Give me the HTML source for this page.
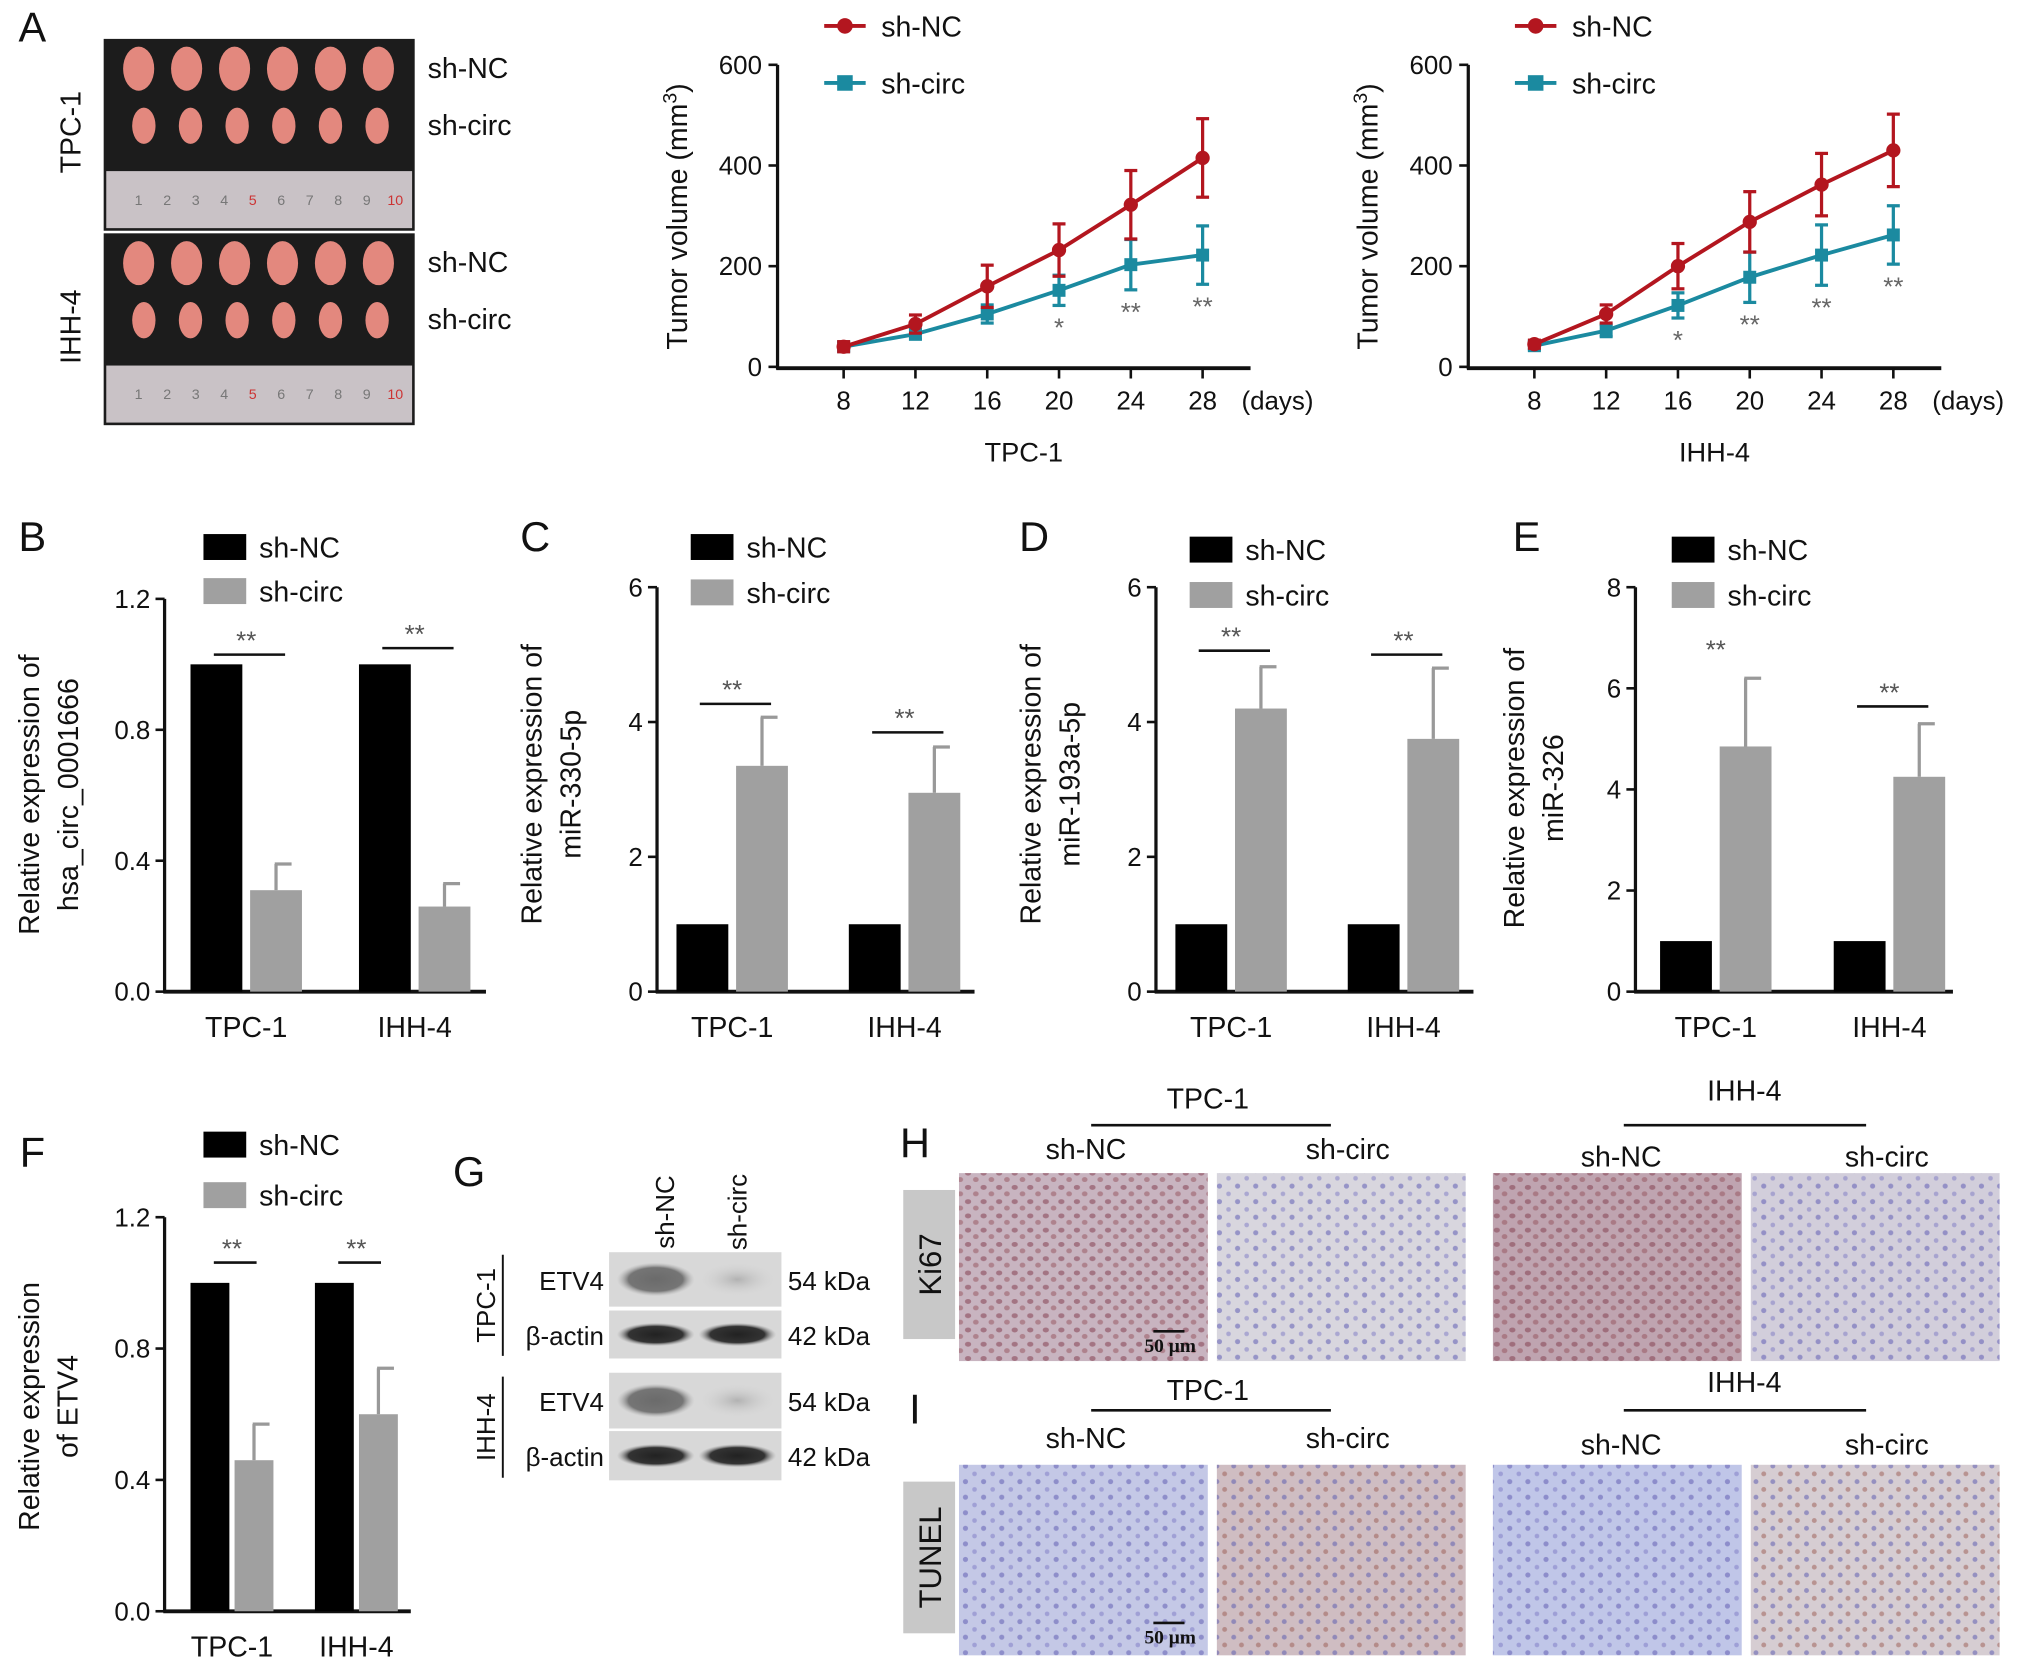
<!DOCTYPE html>
<html><head><meta charset="utf-8"><style>
html,body{margin:0;padding:0;background:#fff;}
svg{display:block;font-family:"Liberation Sans",Arial,sans-serif;}
</style></head><body>
<svg id="fig" width="2032" height="1667" viewBox="0 0 1568 1286" preserveAspectRatio="none" xmlns="http://www.w3.org/2000/svg">
<defs>
<pattern id="dotsBlue" width="14" height="12" patternUnits="userSpaceOnUse"><circle cx="3" cy="3" r="2" fill="#6a68b8" opacity="0.6"/><circle cx="10" cy="9" r="1.8" fill="#7b78c4" opacity="0.5"/></pattern>
<pattern id="dotsBrown" width="12" height="11" patternUnits="userSpaceOnUse"><ellipse cx="3" cy="3" rx="2.4" ry="1.9" fill="#8a4a5a" opacity="0.6"/><ellipse cx="9" cy="8" rx="2.2" ry="1.9" fill="#94505a" opacity="0.5"/></pattern>
<pattern id="dotsMix" width="13" height="12" patternUnits="userSpaceOnUse"><circle cx="3" cy="3" r="1.9" fill="#5e5fb0" opacity="0.55"/><circle cx="9" cy="9" r="1.9" fill="#9a5a50" opacity="0.5"/></pattern>
<radialGradient id="band"><stop offset="0" stop-color="#222"/><stop offset="0.7" stop-color="#333"/><stop offset="1" stop-color="#999" stop-opacity="0"/></radialGradient>
<radialGradient id="bandFaint"><stop offset="0" stop-color="#a8a8a8"/><stop offset="1" stop-color="#d4d4d4" stop-opacity="0"/></radialGradient>
</defs>
<g id="root"></g>
</svg>
<script>
// ===== Panel A line chart data =====
const daysA = [8, 12, 16, 20, 24, 28];
const yTicksA = [0, 200, 400, 600];
const tpcNC = [40, 85, 160, 232, 322, 415];
const tpcNCerr = [10, 18, 42, 52, 68, 78];
const tpcCirc = [40, 65, 105, 152, 203, 222];
const tpcCircErr = [8, 10, 18, 30, 50, 58];
const tpcStars = ['', '', '', '*', '**', '**'];
const ihhNC = [45, 105, 200, 288, 362, 430];
const ihhNCerr = [8, 18, 45, 60, 62, 72];
const ihhCirc = [42, 72, 122, 178, 222, 262];
const ihhCircErr = [8, 12, 25, 50, 60, 58];
const ihhStars = ['', '', '*', '**', '**', '**'];
// ===== Bar chart data =====
const barCats = ['TPC-1', 'IHH-4'];
const bNC = [1, 1]; const bCirc = [0.31, 0.26]; const bCircErr = [0.08, 0.07];
const bTicks = [0.0, 0.4, 0.8, 1.2];
const cNC = [1, 1]; const cCirc = [3.35, 2.95]; const cCircErr = [0.72, 0.68];
const cTicks = [0, 2, 4, 6];
const dNC = [1, 1]; const dCirc = [4.2, 3.75]; const dCircErr = [0.62, 1.05];
const dTicks = [0, 2, 4, 6];
const eNC = [1, 1]; const eCirc = [4.85, 4.25]; const eCircErr = [1.35, 1.05];
const eTicks = [0, 2, 4, 6, 8];
const fNC = [1, 1]; const fCirc = [0.46, 0.6]; const fCircErr = [0.11, 0.14];
const fTicks = [0.0, 0.4, 0.8, 1.2];

const NS = 'http://www.w3.org/2000/svg';
const root = document.getElementById('root');
function mk(tag, attrs, parent) {
  const e = document.createElementNS(NS, tag);
  for (const k in attrs) e.setAttribute(k, attrs[k]);
  (parent || root).appendChild(e);
  return e;
}
function txt(s, x, y, size, anchor, parent, rot) {
  const t = mk('text', {x: x, y: y, 'font-size': size, 'text-anchor': anchor || 'middle', fill: '#111'}, parent);
  if (rot) t.setAttribute('transform', 'rotate(' + rot + ' ' + x + ' ' + y + ')');
  t.textContent = s;
  return t;
}

[['A',25,32],['B',25,425],['C',413,425],['D',798,425],['E',1178,425],['F',25,900],['G',362,915],['H',706,893],['I',706,1098]].forEach(p => {
  const t = txt(p[0], p[1], p[2], 32, 'middle');
  
  
});

function photo(y0, lbl) {
  const g = mk('g', {});
  
  
  mk('rect', {x: 80, y: y0, width: 240, height: 148, fill: '#1c1c1c'}, g);
  mk('rect', {x: 82, y: y0 + 102, width: 236, height: 44, fill: '#c9c2c6'}, g);
  for (let i = 0; i < 6; i++) {
    mk('ellipse', {cx: 107 + i * 37, cy: y0 + 23, rx: 12, ry: 17, fill: '#e3887e'}, g);
    mk('ellipse', {cx: 111 + i * 36, cy: y0 + 67, rx: 9, ry: 14, fill: '#e3887e'}, g);
  }
  for (let i = 1; i <= 10; i++) {
    const t = txt(String(i), 85 + i * 22, y0 + 128, 11, 'middle', g);
    if (i === 5 || i === 10) t.setAttribute('fill', '#c33');
    else t.setAttribute('fill', '#777');
  }
  const l = txt(lbl, 62, y0 + 72, 22, 'middle', g, -90);
  
  
  txt('sh-NC', 330, y0 + 30, 22, 'start', g);
  txt('sh-circ', 330, y0 + 74, 22, 'start', g);
}
photo(30, 'TPC-1'); photo(180, 'IHH-4');

function lineChart(name, ax, title, nc, ncE, ci, ciE, stars) {
  const g = mk('g', {});
  
  
  const x0 = ax + 51, dx = (277) / (daysA[5] - daysA[0]);
  const X = d => x0 + (d - daysA[0]) * dx;
  const Y = v => 283 - v * (233 / 600);
  mk('line', {x1: ax, y1: 50, x2: ax, y2: 285, stroke: '#111', 'stroke-width': 2.5}, g);
  mk('line', {x1: ax - 1, y1: 284, x2: ax + 365, y2: 284, stroke: '#111', 'stroke-width': 3}, g);
  yTicksA.forEach(v => {
    mk('line', {x1: ax - 7, y1: Y(v), x2: ax, y2: Y(v), stroke: '#111', 'stroke-width': 2}, g);
    const t = txt(String(v), ax - 12, Y(v) + 7, 20, 'end', g);
    
    
  });
  daysA.forEach(d => {
    mk('line', {x1: X(d), y1: 284, x2: X(d), y2: 292, stroke: '#111', 'stroke-width': 2}, g);
    const t = txt(String(d), X(d), 316, 20, 'middle', g);
    
    
  });
  txt('(days)', ax + 358, 316, 20, 'start', g);
  const tt = txt(title, ax + 190, 356, 21, 'middle', g);
  
  
  const yt = mk('text', {x: ax - 70, y: 167, 'font-size': 22, 'text-anchor': 'middle', fill: '#111', transform: 'rotate(-90 ' + (ax - 70) + ' 167)'}, g);
  yt.innerHTML = 'Tumor volume (mm<tspan dy="-8" font-size="15">3</tspan><tspan dy="8">)</tspan>';
  
  
  [[ci, ciE, '#1b8aa0', 'sh-circ', 'rect'], [nc, ncE, '#b3161f', 'sh-NC', 'circle']].forEach(s => {
    const sg = mk('g', {}, g);
    
    
    mk('polyline', {points: daysA.map((d, i) => X(d) + ',' + Y(s[0][i])).join(' '), fill: 'none', stroke: s[2], 'stroke-width': 3}, sg);
    daysA.forEach((d, i) => {
      const x = X(d), y1 = Y(s[0][i] + s[1][i]), y2 = Y(s[0][i] - s[1][i]);
      mk('line', {x1: x, y1: y1, x2: x, y2: y2, stroke: s[2], 'stroke-width': 2.5}, sg);
      mk('line', {x1: x - 5, y1: y1, x2: x + 5, y2: y1, stroke: s[2], 'stroke-width': 2.5}, sg);
      mk('line', {x1: x - 5, y1: y2, x2: x + 5, y2: y2, stroke: s[2], 'stroke-width': 2.5}, sg);
      let m;
      if (s[4] === 'rect') m = mk('rect', {x: x - 5, y: Y(s[0][i]) - 5, width: 10, height: 10, fill: s[2]}, sg);
      else m = mk('circle', {cx: x, cy: Y(s[0][i]), r: 5.5, fill: s[2]}, sg);
      
      
    });
  });
  daysA.forEach((d, i) => {
    if (!stars[i]) return;
    const t = txt(stars[i], X(d), Y(ci[i] - ciE[i]) + 24, 20, 'middle', g);
    t.setAttribute('fill', '#666');
    
    
  });
  [['sh-NC', '#b3161f', 20, 'circle'], ['sh-circ', '#1b8aa0', 64, 'rect']].forEach(l => {
    const lg = mk('g', {}, g);
    
    
    mk('line', {x1: ax + 36, y1: l[2], x2: ax + 68, y2: l[2], stroke: l[1], 'stroke-width': 3}, lg);
    if (l[3] === 'circle') mk('circle', {cx: ax + 52, cy: l[2], r: 6, fill: l[1]}, lg);
    else mk('rect', {x: ax + 46, y: l[2] - 6, width: 12, height: 12, fill: l[1]}, lg);
    txt(l[0], ax + 80, l[2] + 8, 22, 'start', lg);
  });
}
lineChart('tumor-volume-chart-tpc1', 600, 'TPC-1', tpcNC, tpcNCerr, tpcCirc, tpcCircErr, tpcStars);
lineChart('tumor-volume-chart-ihh4', 1133, 'IHH-4', ihhNC, ihhNCerr, ihhCirc, ihhCircErr, ihhStars);

function barChart(o) {
  const g = mk('g', {});
  
  
  const max = o.ticks[o.ticks.length - 1];
  const Y = v => o.y0 - v / max * (o.y0 - o.yTop);
  mk('line', {x1: o.ax, y1: o.yTop, x2: o.ax, y2: o.y0 + 1, stroke: '#111', 'stroke-width': 2.5}, g);
  mk('line', {x1: o.ax - 1, y1: o.y0, x2: o.ax + o.axW, y2: o.y0, stroke: '#111', 'stroke-width': 3}, g);
  o.ticks.forEach(v => {
    mk('line', {x1: o.ax - 7, y1: Y(v), x2: o.ax, y2: Y(v), stroke: '#111', 'stroke-width': 2}, g);
    const t = txt(o.dec ? v.toFixed(1) : String(v), o.ax - 11, Y(v) + 7, 20, 'end', g);
    
    
  });
  barCats.forEach((c, i) => {
    const gx = o.ax + o.off + i * o.gap;
    const b1 = mk('rect', {x: gx, y: Y(o.nc[i]), width: o.bw, height: o.y0 - Y(o.nc[i]), fill: '#000'}, g);
    
    
    const bx = gx + o.bw + o.sp;
    const top = Y(o.ci[i] + o.ce[i]);
    mk('line', {x1: bx + o.bw / 2, y1: top, x2: bx + o.bw / 2, y2: Y(o.ci[i]), stroke: '#999', 'stroke-width': 2.5}, g);
    mk('line', {x1: bx + o.bw / 2 - 1, y1: top, x2: bx + o.bw / 2 + 12, y2: top, stroke: '#999', 'stroke-width': 2.5}, g);
    const b2 = mk('rect', {x: bx, y: Y(o.ci[i]), width: o.bw, height: o.y0 - Y(o.ci[i]), fill: '#a0a0a0'}, g);
    
    
    const t = txt(c, gx + o.bw + o.sp / 2, o.y0 + 35, 22, 'middle', g);
    
    
    const sy = o.sig[i];
    if (o.sigLine[i]) mk('line', {x1: gx + 18, y1: sy, x2: bx + o.bw - 18 + 5, y2: sy, stroke: '#111', 'stroke-width': 2}, g);
    const st = txt('**', gx + o.bw + o.sp / 2, sy - 4, 20, 'middle', g);
    st.setAttribute('fill', '#555');
    
    
  });
  [['sh-NC', '#000', o.lgY], ['sh-circ', '#a0a0a0', o.lgY + o.lgDy]].forEach(l => {
    const lg = mk('g', {}, g);
    
    
    mk('rect', {x: o.lgX, y: l[2] - 10, width: 33, height: 20, fill: l[1]}, lg);
    txt(l[0], o.lgX + 43, l[2] + 8, 22, 'start', lg);
  });
  o.title.forEach((s, k) => {
    const x = o.tx + k * 30;
    const t = txt(s, x, o.ty, 22, 'middle', g, -90);
    
    
  });
}
barChart({name: 'bar-chart-b', ax: 127, y0: 765, yTop: 462, axW: 248, off: 20, gap: 130, bw: 40, sp: 6, nc: bNC, ci: bCirc, ce: bCircErr, ticks: bTicks, dec: true, sig: [505, 500], sigLine: [true, true], lgX: 157, lgY: 422, lgDy: 34, title: ['Relative expression of', 'hsa_circ_0001666'], tx: 30, ty: 613});
barChart({name: 'bar-chart-c', ax: 507, y0: 765, yTop: 453, axW: 245, off: 15, gap: 133, bw: 40, sp: 6, nc: cNC, ci: cCirc, ce: cCircErr, ticks: cTicks, dec: false, sig: [543, 565], sigLine: [true, true], lgX: 533, lgY: 422, lgDy: 35, title: ['Relative expression of', 'miR-330-5p'], tx: 418, ty: 605});
barChart({name: 'bar-chart-d', ax: 892, y0: 765, yTop: 453, axW: 245, off: 15, gap: 133, bw: 40, sp: 6, nc: dNC, ci: dCirc, ce: dCircErr, ticks: dTicks, dec: false, sig: [502, 505], sigLine: [true, true], lgX: 918, lgY: 424, lgDy: 35, title: ['Relative expression of', 'miR-193a-5p'], tx: 803, ty: 605});
barChart({name: 'bar-chart-e', ax: 1262, y0: 765, yTop: 453, axW: 245, off: 19, gap: 134, bw: 40, sp: 6, nc: eNC, ci: eCirc, ce: eCircErr, ticks: eTicks, dec: false, sig: [512, 545], sigLine: [false, true], lgX: 1290, lgY: 424, lgDy: 35, title: ['Relative expression of', 'miR-326'], tx: 1176, ty: 608});
barChart({name: 'bar-chart-f', ax: 127, y0: 1243, yTop: 939, axW: 190, off: 20, gap: 96, bw: 30, sp: 4, nc: fNC, ci: fCirc, ce: fCircErr, ticks: fTicks, dec: true, sig: [974, 974], sigLine: [true, true], lgX: 157, lgY: 883, lgDy: 39, title: ['Relative expression', 'of ETV4'], tx: 30, ty: 1085});

(function () {
  const g = mk('g', {});
  
  
  txt('sh-NC', 520, 935, 20, 'middle', g, -90);
  txt('sh-circ', 576, 935, 20, 'middle', g, -90);
  const rows = [[966, 42, 'ETV4', '54 kDa', 0.95, 0.3], [1011, 37, 'β-actin', '42 kDa', 1, 1], [1059, 43, 'ETV4', '54 kDa', 0.85, 0.25], [1104, 38, 'β-actin', '42 kDa', 1, 1]];
  rows.forEach(r => {
    const rg = mk('g', {}, g);
    
    
    mk('rect', {x: 470, y: r[0], width: 133, height: r[1], fill: '#d8d8d8'}, rg);
    [[506, r[4]], [569, r[5]]].forEach(b => {
      mk('ellipse', {cx: b[0], cy: r[0] + r[1] / 2, rx: 30, ry: r[2] === 'ETV4' ? 13 : 9, fill: b[1] > 0.5 ? 'url(#band)' : 'url(#bandFaint)', opacity: b[1] > 0.5 ? (r[2] === 'ETV4' ? 0.6 : 1) : 0.8}, rg);
    });
    txt(r[2], 466, r[0] + r[1] / 2 + 8, 20, 'end', rg);
    txt(r[3], 608, r[0] + r[1] / 2 + 8, 20, 'start', rg);
  });
  mk('line', {x1: 388, y1: 968, x2: 388, y2: 1046, stroke: '#111', 'stroke-width': 1.5}, g);
  mk('line', {x1: 388, y1: 1062, x2: 388, y2: 1140, stroke: '#111', 'stroke-width': 1.5}, g);
  txt('TPC-1', 382, 1007, 20, 'middle', g, -90);
  txt('IHH-4', 382, 1101, 20, 'middle', g, -90);
})();

(function () {
  const g = mk('g', {});
  
  
  const cols = [740, 939, 1152, 1351];
  const rowsM = [[905, 145, ['#c8b4c0', '#d8d6de', '#bfa4b0', '#d2cedb'], ['url(#dotsBrown)', 'url(#dotsBlue)', 'url(#dotsBrown)', 'url(#dotsBlue)'], 'Ki67'],
                 [1130, 147, ['#c4c8e6', '#cfbdc2', '#c0c6e8', '#d6cdd2'], ['url(#dotsBlue)', 'url(#dotsMix)', 'url(#dotsBlue)', 'url(#dotsMix)'], 'TUNEL']];
  rowsM.forEach(r => {
    cols.forEach((x, i) => {
      const im = mk('g', {}, g);
      
      
      mk('rect', {x: x, y: r[0], width: 192, height: r[1], fill: r[2][i]}, im);
      mk('rect', {x: x, y: r[0], width: 192, height: r[1], fill: r[3][i]}, im);
    });
    const lb = mk('g', {}, g);
    
    
    mk('rect', {x: 697, y: r[0] + 13, width: 40, height: r[1] - 30, fill: '#c8c8c8'}, lb);
    txt(r[4], 726, r[0] + 13 + (r[1] - 30) / 2, 24, 'middle', lb, -90);
    mk('line', {x1: 890, y1: r[0] + 122, x2: 914, y2: r[0] + 122, stroke: '#111', 'stroke-width': 2}, g);
    const sb = txt('50 μm', 903, r[0] + 138, 15, 'middle', g);
    sb.setAttribute('font-family', 'Liberation Serif, serif');
    sb.setAttribute('font-weight', 'bold');
  });
  [[855, 868, 887, 893], [1080, 1088, 1110, 1115]].forEach(h => {
    txt('TPC-1', 932, h[0], 22, 'middle', g);
    mk('line', {x1: 842, y1: h[1], x2: 1027, y2: h[1], stroke: '#111', 'stroke-width': 2}, g);
    txt('IHH-4', 1346, h[0] - 6, 22, 'middle', g);
    mk('line', {x1: 1253, y1: h[1], x2: 1440, y2: h[1], stroke: '#111', 'stroke-width': 2}, g);
    txt('sh-NC', 838, h[2] + 7, 22, 'middle', g);
    txt('sh-circ', 1040, h[2] + 7, 22, 'middle', g);
    txt('sh-NC', 1251, h[3] + 7, 22, 'middle', g);
    txt('sh-circ', 1456, h[3] + 7, 22, 'middle', g);
  });
})();
</script>
</body></html>
